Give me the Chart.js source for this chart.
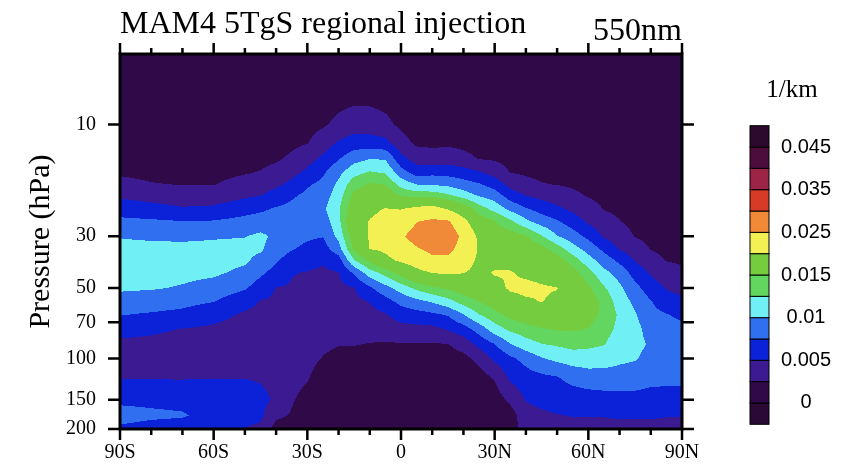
<!DOCTYPE html>
<html>
<head>
<meta charset="utf-8">
<script src="https://cdn.jsdelivr.net/npm/chart.js@4.4.1/dist/chart.umd.min.js"></script>
<style>
  html, body { margin: 0; padding: 0; background: #fff; }
</style>
</head>
<body>
<canvas id="chart" width="841" height="469"></canvas>
<script>
const SERIF = '"Liberation Serif", "Times New Roman", serif';
const SANS = '"Liberation Sans", Arial, sans-serif';

// grid of the field: latitude columns and pressure levels (hPa)
const lats = [-90, -80, -70, -60, -50, -45, -40, -35, -30, -25, -20, -15, -10, -5, 0, 5, 10, 15,
  20, 25, 30, 35, 40, 45, 50, 55, 60, 65, 70, 75, 80, 85, 90];
const pressures = [5, 7, 10, 12, 14, 16, 18, 20, 23, 26, 30, 34, 38, 43, 50, 57, 65, 75, 87, 100,
  120, 150, 175, 200];

// 550nm extinction in 1e-3 /km, one row per latitude, one value per pressure level
const extinction = [
  [0.8, 0.8, 0.9, 1.0, 1.6, 2.2, 3.1, 4.5, 6.4, 8.1, 9.9, 10.5, 11.0, 11.0, 10.3, 9.2, 7.6, 5.8, 4.5, 3.8, 4.8, 6.9, 8.6, 7.0],
  [0.8, 0.8, 0.9, 1.0, 1.5, 2.0, 2.6, 4.0, 5.9, 7.9, 9.7, 10.5, 11.0, 10.9, 10.2, 8.8, 7.2, 5.4, 4.4, 3.9, 4.8, 6.8, 8.1, 6.3],
  [0.8, 0.8, 0.8, 1.0, 1.3, 1.9, 2.4, 3.5, 5.3, 7.6, 9.6, 10.5, 11.1, 10.6, 9.8, 8.3, 6.8, 4.9, 4.2, 4.0, 4.8, 6.6, 7.8, 6.0],
  [0.8, 0.8, 0.8, 1.0, 1.3, 1.9, 2.4, 3.6, 5.5, 7.7, 9.8, 10.5, 11.0, 10.4, 9.1, 7.6, 5.7, 4.6, 3.9, 4.2, 4.9, 6.5, 6.3, 5.8],
  [0.8, 0.8, 0.9, 1.0, 1.7, 2.3, 3.3, 4.5, 6.6, 8.3, 9.9, 10.7, 10.4, 9.4, 7.8, 5.7, 4.7, 4.2, 3.8, 4.3, 4.9, 6.2, 5.8, 4.9],
  [0.8, 0.8, 0.9, 1.3, 1.9, 2.6, 3.8, 4.9, 7.1, 8.6, 10.5, 10.4, 9.2, 8.0, 6.2, 4.9, 4.5, 4.1, 3.8, 4.2, 4.7, 5.7, 5.5, 4.5],
  [0.8, 0.8, 1.0, 1.6, 2.2, 3.2, 4.5, 5.9, 7.8, 8.6, 9.5, 8.6, 7.8, 6.6, 4.9, 4.7, 4.4, 4.1, 3.8, 4.0, 4.3, 4.6, 3.0, 1.5],
  [0.8, 0.8, 1.2, 2.0, 2.9, 4.2, 5.6, 7.1, 8.2, 8.8, 8.4, 7.7, 6.5, 5.1, 4.8, 4.5, 4.3, 4.0, 3.8, 3.5, 3.2, 2.7, 2.3, 1.5],
  [0.8, 0.9, 1.7, 2.4, 4.1, 5.5, 7.2, 8.0, 8.9, 8.8, 7.9, 6.9, 5.7, 4.9, 4.6, 4.3, 4.0, 3.7, 3.4, 3.1, 2.7, 1.8, 1.2, 1.0],
  [0.8, 1.0, 2.2, 3.8, 5.5, 7.1, 8.1, 8.8, 9.5, 8.6, 7.6, 6.4, 5.2, 4.7, 4.3, 4.0, 3.6, 3.3, 2.9, 2.4, 1.5, 1.1, 1.0, 0.9],
  [0.8, 1.2, 3.1, 5.3, 7.3, 9.3, 10.5, 11.2, 12.2, 11.7, 10.7, 9.0, 6.4, 4.9, 4.4, 3.9, 3.5, 3.0, 2.6, 1.9, 1.2, 1.1, 1.0, 0.9],
  [0.8, 1.4, 3.7, 6.2, 9.1, 11.6, 14.0, 15.6, 17.2, 18.4, 16.8, 15.4, 12.4, 7.9, 4.9, 4.4, 3.8, 3.2, 2.6, 1.7, 1.1, 1.0, 0.9, 0.9],
  [0.8, 1.4, 3.6, 6.2, 9.9, 12.7, 15.3, 17.0, 19.2, 20.2, 20.4, 20.1, 15.7, 11.3, 7.1, 5.1, 4.2, 3.3, 2.4, 1.5, 1.2, 1.1, 1.0, 1.0],
  [0.8, 1.2, 3.1, 5.8, 9.8, 12.2, 14.9, 17.3, 20.2, 21.3, 22.0, 20.8, 18.9, 13.5, 9.1, 6.6, 4.8, 3.6, 2.3, 1.4, 1.2, 1.1, 1.1, 1.0],
  [0.8, 0.9, 2.0, 3.4, 5.8, 8.5, 11.5, 14.5, 19.9, 22.0, 24.4, 22.6, 20.8, 16.1, 11.1, 8.2, 6.1, 4.1, 2.3, 1.4, 1.2, 1.1, 1.1, 1.0],
  [0.8, 0.8, 1.3, 2.1, 3.9, 6.3, 9.9, 13.8, 21.2, 24.9, 26.8, 24.6, 22.1, 18.8, 13.1, 9.3, 6.5, 4.2, 2.3, 1.4, 1.2, 1.1, 1.1, 1.0],
  [0.8, 0.8, 1.2, 2.0, 3.6, 6.7, 9.7, 13.8, 21.9, 25.8, 28.0, 26.2, 24.0, 20.1, 14.5, 10.3, 7.0, 4.3, 2.3, 1.4, 1.2, 1.1, 1.1, 1.0],
  [0.8, 0.8, 1.3, 2.1, 3.7, 6.6, 9.3, 12.8, 19.8, 25.7, 27.9, 26.2, 24.1, 20.6, 15.4, 11.6, 7.7, 5.2, 2.4, 1.5, 1.2, 1.1, 1.1, 1.0],
  [0.8, 0.8, 1.2, 2.0, 3.1, 6.1, 8.5, 11.1, 17.3, 21.3, 23.9, 23.3, 21.8, 20.1, 16.6, 13.6, 9.9, 6.4, 3.5, 1.8, 1.2, 1.1, 1.1, 1.0],
  [0.8, 0.8, 1.0, 1.7, 2.4, 5.2, 7.7, 9.6, 13.8, 16.7, 19.2, 19.6, 19.3, 19.1, 17.1, 15.1, 12.4, 8.5, 5.7, 3.2, 1.5, 1.2, 1.1, 1.0],
  [0.8, 0.8, 1.0, 1.5, 2.2, 3.9, 6.5, 8.6, 11.7, 15.2, 16.7, 17.9, 18.7, 20.3, 18.8, 16.3, 14.2, 11.3, 7.4, 5.5, 2.8, 1.2, 1.1, 1.0],
  [0.8, 0.8, 0.9, 1.1, 1.8, 2.4, 4.1, 6.2, 9.4, 13.1, 16.4, 18.4, 19.1, 20.2, 20.5, 18.6, 15.7, 13.0, 9.8, 7.0, 5.5, 3.1, 1.3, 1.0],
  [0.8, 0.8, 0.8, 1.0, 1.6, 2.2, 3.1, 4.8, 7.8, 10.6, 15.2, 17.0, 18.5, 19.4, 20.8, 19.6, 16.9, 13.9, 11.4, 8.3, 6.5, 5.1, 4.2, 3.8],
  [0.8, 0.8, 0.8, 1.0, 1.5, 2.0, 2.6, 4.1, 6.6, 8.9, 12.7, 16.0, 17.8, 19.1, 20.3, 20.1, 17.9, 14.7, 12.4, 9.8, 7.0, 5.6, 4.6, 4.0],
  [0.8, 0.8, 0.8, 0.9, 1.4, 2.0, 2.4, 3.6, 5.5, 7.8, 10.1, 13.8, 16.3, 18.4, 20.1, 19.4, 17.8, 15.2, 12.8, 10.6, 7.4, 6.0, 4.9, 4.0],
  [0.8, 0.8, 0.8, 0.9, 1.1, 1.7, 2.2, 2.9, 4.5, 6.3, 8.6, 11.0, 13.8, 16.1, 18.2, 17.6, 16.5, 15.3, 13.3, 11.2, 8.3, 6.2, 5.1, 4.3],
  [0.8, 0.8, 0.8, 0.8, 1.0, 1.4, 1.9, 2.3, 3.4, 4.6, 6.9, 9.0, 11.0, 13.4, 15.5, 16.7, 16.2, 14.9, 13.0, 11.3, 8.9, 6.3, 5.1, 4.3],
  [0.8, 0.8, 0.8, 0.8, 0.9, 1.0, 1.4, 1.9, 2.4, 3.5, 4.7, 6.9, 8.8, 10.7, 12.8, 14.2, 14.3, 13.4, 12.6, 11.1, 9.0, 6.5, 5.1, 4.4],
  [0.8, 0.8, 0.8, 0.8, 0.8, 0.8, 1.0, 1.4, 2.0, 2.6, 3.7, 4.8, 6.9, 9.0, 10.5, 11.3, 12.1, 11.9, 11.2, 10.5, 9.0, 6.6, 5.2, 4.5],
  [0.8, 0.8, 0.8, 0.8, 0.8, 0.8, 0.8, 1.0, 1.3, 1.8, 2.4, 3.7, 4.8, 6.5, 8.2, 9.4, 10.2, 10.8, 10.7, 10.2, 8.7, 6.7, 5.2, 4.5],
  [0.8, 0.8, 0.8, 0.8, 0.8, 0.8, 0.8, 0.8, 1.0, 1.2, 1.8, 2.4, 3.4, 4.7, 6.3, 7.6, 8.2, 9.0, 9.7, 9.1, 8.2, 6.6, 5.2, 4.5],
  [0.8, 0.8, 0.8, 0.8, 0.8, 0.8, 0.8, 0.8, 0.8, 0.9, 1.4, 1.9, 2.4, 3.4, 4.8, 6.2, 7.6, 8.3, 9.0, 8.9, 8.1, 6.6, 5.1, 4.4],
  [0.8, 0.8, 0.8, 0.8, 0.8, 0.8, 0.8, 0.8, 0.8, 0.8, 1.2, 1.7, 2.2, 2.9, 4.2, 5.5, 7.1, 8.0, 8.7, 9.0, 8.1, 6.6, 5.1, 4.3]
];

// contour levels (1e-3 /km) and fill colours, lowest band first
const levels = [0, 2.5, 5, 7.5, 10, 12.5, 15, 20, 25, 30, 35, 40, 45];
const levelColors = ['#2a0936', '#300a48', '#3c1a92', '#0c22d8', '#3070f0', '#70f0f4', '#62d65e',
  '#74cc3e', '#f2f052', '#f08a38', '#d83a28', '#9c2446', '#4c0c3c', '#2c0a2e'];
const levelLabels = ['0', '', '0.005', '', '0.01', '', '0.015', '', '0.025', '', '0.035', '', '0.045'];

const xMajor = [-90, -60, -30, 0, 30, 60, 90];
const xMinor = [-80, -70, -50, -40, -20, -10, 10, 20, 40, 50, 70, 80];
const yMajor = [10, 30, 50, 70, 100, 150, 200];

const logP = pressures.map(p => Math.log10(p));
const rgb = levelColors.map(h => {
  const n = parseInt(h.slice(1), 16);
  return [(n >> 16) & 255, (n >> 8) & 255, n & 255];
});

function locate(arr, v) {
  let i = 0;
  while (i < arr.length - 2 && v > arr[i + 1]) i++;
  const t = (v - arr[i]) / (arr[i + 1] - arr[i]);
  return [i, Math.min(1, Math.max(0, t))];
}

function latLabel(v) {
  if (v === 0) return '0';
  return v < 0 ? `${-v}S` : `${v}N`;
}

const contourFill = {
  id: 'contourFill',
  beforeDatasetsDraw(chart) {
    const { ctx, chartArea: a, scales: { x, y } } = chart;
    const w = Math.round(a.right - a.left);
    const h = Math.round(a.bottom - a.top);
    const off = document.createElement('canvas');
    off.width = w;
    off.height = h;
    const octx = off.getContext('2d');
    const img = octx.createImageData(w, h);
    const cols = [];
    for (let px = 0; px < w; px++) cols.push(locate(lats, x.getValueForPixel(a.left + px + 0.5)));
    for (let py = 0; py < h; py++) {
      const [j, ty] = locate(logP, Math.log10(y.getValueForPixel(a.top + py + 0.5)));
      for (let px = 0; px < w; px++) {
        const [i, tx] = cols[px];
        const top = extinction[i][j] * (1 - tx) + extinction[i + 1][j] * tx;
        const bot = extinction[i][j + 1] * (1 - tx) + extinction[i + 1][j + 1] * tx;
        const v = top * (1 - ty) + bot * ty;
        let k = 0;
        while (k < levels.length && v >= levels[k]) k++;
        const c = rgb[k];
        const o = (py * w + px) * 4;
        img.data[o] = c[0];
        img.data[o + 1] = c[1];
        img.data[o + 2] = c[2];
        img.data[o + 3] = 255;
      }
    }
    octx.putImageData(img, 0, 0);
    ctx.drawImage(off, a.left, a.top);
  }
};

const frameAndKey = {
  id: 'frameAndKey',
  afterDraw(chart) {
    const { ctx, chartArea: a, scales: { x, y } } = chart;
    ctx.save();
    ctx.strokeStyle = '#000';
    ctx.lineWidth = 2.5;
    ctx.beginPath();
    xMajor.forEach(v => {
      const px = x.getPixelForValue(v);
      ctx.moveTo(px, a.bottom); ctx.lineTo(px, a.bottom + 11);
      ctx.moveTo(px, a.top); ctx.lineTo(px, a.top - 11);
    });
    xMinor.forEach(v => {
      const px = x.getPixelForValue(v);
      ctx.moveTo(px, a.bottom); ctx.lineTo(px, a.bottom + 6);
      ctx.moveTo(px, a.top); ctx.lineTo(px, a.top - 6);
    });
    yMajor.forEach(v => {
      const py = y.getPixelForValue(v);
      ctx.moveTo(a.left - 12, py); ctx.lineTo(a.left, py);
      ctx.moveTo(a.right, py); ctx.lineTo(a.right + 12, py);
    });
    ctx.stroke();
    ctx.lineWidth = 3;
    ctx.strokeRect(a.left, a.top, a.right - a.left, a.bottom - a.top);

    // colour key
    const barX = 750, barW = 19, barBottom = 424.3, barTop = 125.7;
    const bh = (barBottom - barTop) / levelColors.length;
    ctx.lineWidth = 1;
    levelColors.forEach((c, k) => {
      const y0 = barBottom - (k + 1) * bh;
      ctx.fillStyle = c;
      ctx.fillRect(barX, y0, barW, bh);
      ctx.strokeRect(barX, y0, barW, bh);
    });
    ctx.fillStyle = '#000';
    ctx.font = `20px ${SANS}`;
    ctx.textAlign = 'center';
    ctx.textBaseline = 'middle';
    levelLabels.forEach((t, k) => {
      if (t) ctx.fillText(t, 806, barBottom - (k + 1) * bh);
    });

    ctx.textBaseline = 'alphabetic';
    ctx.font = `25px ${SERIF}`;
    ctx.fillText('1/km', 792, 97);
    ctx.font = `32px ${SERIF}`;
    ctx.textAlign = 'left';
    ctx.fillText('MAM4 5TgS regional injection', a.left, 33);
    ctx.textAlign = 'right';
    ctx.fillText('550nm', a.right, 40);
    ctx.restore();
  }
};

new Chart(document.getElementById('chart'), {
  type: 'scatter',
  data: { datasets: [{ data: [] }] },
  options: {
    responsive: false,
    animation: false,
    layout: { padding: { top: 54, right: 159, bottom: 0, left: 0 } },
    plugins: { legend: { display: false }, tooltip: { enabled: false } },
    scales: {
      x: {
        type: 'linear',
        min: -90,
        max: 90,
        afterFit: s => { s.height = 40; },
        afterBuildTicks: s => { s.ticks = xMajor.map(v => ({ value: v })); },
        grid: { display: true, drawOnChartArea: false, drawTicks: true, tickLength: 10, color: 'rgba(0,0,0,0)' },
        border: { display: false },
        ticks: {
          autoSkip: false,
          maxRotation: 0,
          padding: 2,
          color: '#000',
          font: { family: SERIF, size: 20 },
          callback: v => latLabel(v)
        }
      },
      y: {
        type: 'logarithmic',
        reverse: true,
        min: 5,
        max: 200,
        afterFit: s => { s.width = 120; },
        afterBuildTicks: s => { s.ticks = yMajor.map(v => ({ value: v })); },
        grid: { display: true, drawOnChartArea: false, drawTicks: true, tickLength: 12, color: 'rgba(0,0,0,0)' },
        border: { display: false },
        title: {
          display: true,
          text: 'Pressure (hPa)',
          color: '#000',
          font: { family: SERIF, size: 30 },
          padding: { top: 23, bottom: 0 }
        },
        ticks: {
          autoSkip: false,
          padding: 12,
          color: '#000',
          font: { family: SERIF, size: 20 },
          callback: v => String(v)
        }
      }
    }
  },
  plugins: [contourFill, frameAndKey]
});
</script>
</body>
</html>
